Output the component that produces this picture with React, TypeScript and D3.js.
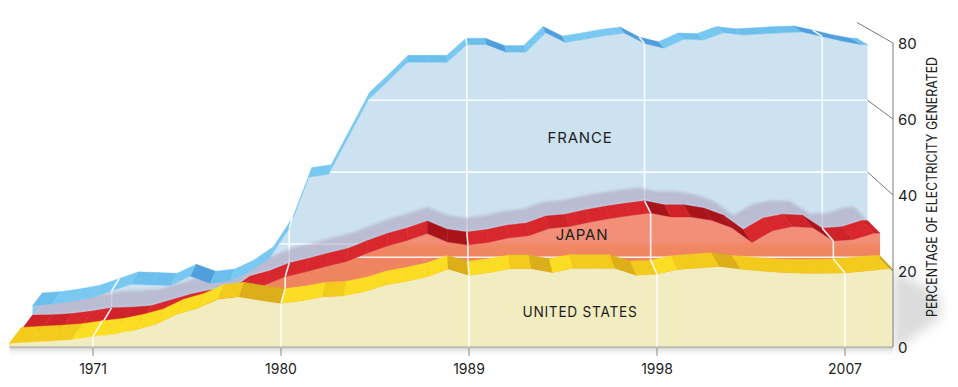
import React from 'react';
import * as d3 from 'd3';

// ---------- data ----------
const years = [
  1967, 1968, 1969, 1970, 1971, 1972, 1973, 1974, 1975, 1976, 1977, 1978, 1979, 1980,
  1981, 1982, 1983, 1984, 1985, 1986, 1987, 1988, 1989, 1990, 1991, 1992, 1993, 1994,
  1995, 1996, 1997, 1998, 1999, 2000, 2001, 2002, 2003, 2004, 2005, 2006, 2007, 2008, 2009,
];
const unitedStates = [
  1.0, 1.3, 1.6, 2.0, 2.8, 3.4, 4.5, 6.0, 8.6, 10.2, 12.6, 13.2, 12.3, 11.5,
  12.2, 13.2, 13.5, 14.6, 16.3, 17.3, 18.5, 20.5, 18.9, 19.6, 20.6, 20.6, 19.6, 20.7,
  20.7, 20.7, 18.9, 19.2, 20.4, 20.8, 21.2, 20.5, 20.0, 19.6, 19.4, 19.4, 19.5, 20.0, 20.5,
];
const japan = [
  0.2, 0.3, 0.6, 1.3, 2.2, 2.4, 2.8, 4.4, 6.0, 7.2, 7.0, 11.0, 12.5, 14.7,
  16.0, 17.5, 18.8, 21.0, 23.0, 24.5, 26.4, 24.1, 23.3, 24.0, 25.2, 25.8, 27.8, 28.3,
  29.5, 30.5, 31.3, 32.0, 30.9, 30.9, 30.0, 28.0, 24.0, 27.2, 28.3, 28.0, 24.4, 24.8, 26.5,
];
const france = [
  2.8, 3.2, 4.0, 5.0, 6.9, 8.8, 8.6, 8.4, 11.0, 9.0, 9.6, 12.2, 16.0, 24.3,
  38.6, 39.4, 49.7, 60.1, 65.3, 70.6, 70.6, 70.6, 75.5, 75.5, 73.4, 73.4, 78.8, 76.1,
  77.0, 78.0, 78.7, 75.8, 74.5, 77.0, 76.8, 78.8, 78.2, 78.5, 78.8, 79.0, 77.8, 76.5, 75.5,
];
const yearTicks = [1971, 1980, 1989, 1998, 2007];
const valueTicks = [0, 20, 40, 60, 80];
const axisTitle = 'PERCENTAGE OF ELECTRICITY GENERATED';

// ---------- layout ----------
const W = 958;
const H = 387;
const VP: [number, number] = [430, -221];
const RIGHT_EDGE = 893;
const xScale = d3.scaleLinear().domain([1971, 2007]).range([93, 845]);
const yScale = d3.scaleLinear().domain([0, 80]).range([347, 43]);
const FONT = 'Inter, "Open Sans", sans-serif';

type P = [number, number];
const proj = (p: P, k: number): P => [VP[0] + (p[0] - VP[0]) * k, VP[1] + (p[1] - VP[1]) * k];
const line = d3.line<P>();

interface Layer {
  id: string;
  values: number[];
  kf: number;
  kb: number;
  face: string;
  up: string;
  flat: string;
  down: string;
  side: string;
  grid: number[];
}

const layers: Layer[] = [
  { id: 'fr', values: france, kf: 0.945, kb: 0.922, face: '#cde2f1', up: '#79c8f1', flat: '#6cbfec', down: '#4e9fdb', side: '#8fcfef', grid: [20, 40, 60, 80] },
  { id: 'jp', values: japan, kf: 0.972, kb: 0.945, face: 'url(#jpFace)', up: '#d8272d', flat: '#cf2229', down: '#a9141b', side: '#c01d24', grid: [20] },
  { id: 'us', values: unitedStates, kf: 1, kb: 0.972, face: '#f2ecc1', up: '#fbdd24', flat: '#f3cb1d', down: '#dcae1a', side: '#f6e06a', grid: [] },
];

const seriesPoints = (vals: number[]): P[] => {
  const pts: P[] = years.map((yr, i) => [xScale(yr), yScale(vals[i])] as P);
  pts.push([RIGHT_EDGE, yScale(vals[vals.length - 1])]);
  return pts;
};

const facePath = (vals: number[], k: number) => {
  const p = seriesPoints(vals);
  const poly: P[] = [[p[0][0], yScale(0)], ...p, [p[p.length - 1][0], yScale(0)]];
  return line(poly.map((q) => proj(q, k))) + 'Z';
};

const valueAt = (vals: number[], yr: number) => vals[years.indexOf(yr)];

function Slab({ layer }: { layer: Layer }) {
  const pts = seriesPoints(layer.values);
  const base = yScale(0);
  const quads = pts.slice(0, -1).map((p, i) => {
    const q = pts[i + 1];
    const dv = i + 1 < layer.values.length ? layer.values[i + 1] - layer.values[i] : 0;
    const col = dv > 0.6 ? layer.up : dv < -0.6 ? layer.down : layer.flat;
    const poly = [proj(p, layer.kf), proj(q, layer.kf), proj(q, layer.kb), proj(p, layer.kb)];
    return <path key={i} d={line(poly) + 'Z'} fill={col} stroke={col} strokeWidth={0.4} />;
  });
  const p0 = pts[0];
  const side = [proj([p0[0], base], layer.kf), proj(p0, layer.kf), proj(p0, layer.kb), proj([p0[0], base], layer.kb)];
  return (
    <g>
      <path d={facePath(layer.values, layer.kf)} fill={layer.face} />
      <g clipPath={`url(#clip-${layer.id})`}>
        {layer.grid.map((v) => {
          const a = proj([xScale(1967), yScale(v)], layer.kf);
          const b = proj([RIGHT_EDGE, yScale(v)], layer.kf);
          return <line key={v} x1={a[0]} y1={a[1]} x2={b[0]} y2={b[1]} stroke="#fff" strokeWidth={1.6} opacity={0.9} />;
        })}
        {yearTicks.map((t) => {
          const a = proj([xScale(t), base], layer.kf);
          const b = proj([xScale(t), yScale(valueAt(layer.values, t))], layer.kf);
          return <line key={t} x1={a[0]} y1={a[1]} x2={b[0]} y2={b[1]} stroke="#fff" strokeWidth={1.6} opacity={0.9} />;
        })}
      </g>
      <path d={line(side) + 'Z'} fill={layer.side} />
      {quads}
      {yearTicks.map((t) => {
        const p: P = [xScale(t), yScale(valueAt(layer.values, t))];
        const a = proj(p, layer.kf);
        const b = proj(p, layer.kb);
        return <line key={'c' + t} x1={a[0]} y1={a[1]} x2={b[0]} y2={b[1]} stroke="#fff" strokeWidth={1.6} opacity={0.9} />;
      })}
    </g>
  );
}

export default function App() {
  const [fr, jp, us] = layers;
  const base = yScale(0);
  const shadowTop = seriesPoints(japan).map((p) => proj(p, 0.915));
  const shadowBottom = seriesPoints(japan).map((p) => proj(p, 0.945)).reverse();
  return (
    <div style={{ position: 'absolute', left: 0, top: 0 }}>
      <svg width={W} height={H} viewBox={`0 0 ${W} ${H}`} style={{ display: 'block', background: '#fff' }}>
        <defs>
          <filter id="blur6" x="-50%" y="-50%" width="200%" height="200%">
            <feGaussianBlur stdDeviation={6} />
          </filter>
          <filter id="blur2" x="-20%" y="-20%" width="140%" height="140%">
            <feGaussianBlur stdDeviation={1.5} />
          </filter>
          <linearGradient id="jpFace" gradientUnits="userSpaceOnUse" x1={0} y1={180} x2={0} y2={270}>
            <stop offset="0" stopColor="#f3917c" />
            <stop offset="0.68" stopColor="#f28e78" />
            <stop offset="0.74" stopColor="#f08762" />
            <stop offset="1" stopColor="#ef8560" />
          </linearGradient>
          <linearGradient id="baseShadow" x1={0} y1={0} x2={0} y2={1}>
            <stop offset="0" stopColor="#b9b9b4" stopOpacity={0.7} />
            <stop offset="1" stopColor="#ffffff" stopOpacity={0} />
          </linearGradient>
          {layers.map((l) => (
            <clipPath key={l.id} id={`clip-${l.id}`}>
              <path d={facePath(l.values, l.kf)} />
            </clipPath>
          ))}
        </defs>

        {/* soft shadows */}
        <path d={line([[893, 268], [940, 296], [940, 318], [893, 352]] as P[]) + 'Z'} fill="#9a9a9a" opacity={0.35} filter="url(#blur6)" />
        <rect x={xScale(1967)} y={base} width={RIGHT_EDGE - xScale(1967)} height={10} fill="url(#baseShadow)" />

        <Slab layer={fr} />

        {/* Japan shadow on the France wall */}
        <g clipPath="url(#clip-fr)">
          <path d={line([...shadowTop, ...shadowBottom]) + 'Z'} fill="#a28fb0" opacity={0.45} filter="url(#blur2)" />
        </g>

        <Slab layer={jp} />
        <Slab layer={us} />

        {/* baseline and axis */}
        <line x1={xScale(1967)} y1={base} x2={RIGHT_EDGE} y2={base} stroke="#a5a59c" strokeWidth={1.2} />
        <line x1={RIGHT_EDGE} y1={yScale(80)} x2={RIGHT_EDGE} y2={base} stroke="#7a7a7a" strokeWidth={1} />
        {valueTicks.filter((v) => v > 0).map((v) => {
          const k = v === 80 ? 0.922 : v === 20 ? 0.972 : 0.945;
          const a = proj([RIGHT_EDGE, yScale(v)], k);
          return <line key={v} x1={a[0]} y1={a[1]} x2={RIGHT_EDGE} y2={yScale(v)} stroke="#7a7a7a" strokeWidth={1} />;
        })}
        {valueTicks.map((v) => (
          <text key={v} x={RIGHT_EDGE + 5} y={yScale(v)} dominantBaseline="central" fontFamily={FONT} fontSize={15} fill="#222">
            {v}
          </text>
        ))}
        <text
          transform={`translate(931,187) rotate(-90)`}
          textAnchor="middle"
          dominantBaseline="central"
          fontFamily={FONT}
          fontSize={14.5}
          fill="#222"
          textLength={260}
          lengthAdjust="spacingAndGlyphs"
        >
          {axisTitle}
        </text>

        {/* year ticks */}
        {yearTicks.map((t) => (
          <g key={t}>
            <line x1={xScale(t)} y1={base + 1} x2={xScale(t)} y2={base + 9} stroke="#8a8a8a" strokeWidth={1} />
            <text x={xScale(t)} y={368} textAnchor="middle" dominantBaseline="central" fontFamily={FONT} fontSize={14} fill="#222">
              {t}
            </text>
          </g>
        ))}

        {/* series labels */}
        <text x={580} y={137} textAnchor="middle" dominantBaseline="central" fontFamily={FONT} fontSize={15} letterSpacing={0.8} fill="#1d1d1d">FRANCE</text>
        <text x={582} y={234} textAnchor="middle" dominantBaseline="central" fontFamily={FONT} fontSize={15} letterSpacing={0.8} fill="#1d1d1d">JAPAN</text>
        <text x={580} y={311} textAnchor="middle" dominantBaseline="central" fontFamily={FONT} fontSize={15} letterSpacing={0.8} fill="#1d1d1d" textLength={115} lengthAdjust="spacingAndGlyphs">UNITED STATES</text>
      </svg>
    </div>
  );
}
